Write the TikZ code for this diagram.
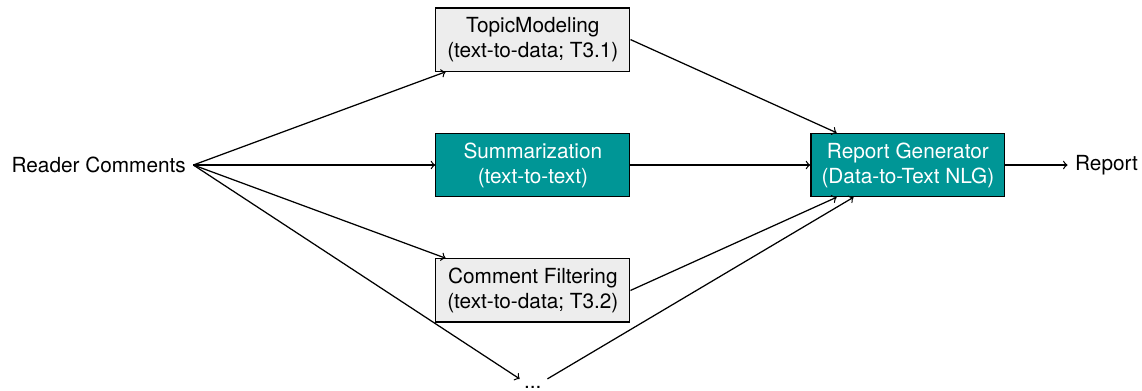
\documentclass[tikz,border=0pt]{standalone}
\usepackage{fontspec}
\setmainfont{TeX Gyre Heros}
\usepackage{tikz}
\usetikzlibrary{arrows,positioning}

\definecolor{boxteal}{RGB}{0,150,150}
\tikzset{
  graybox/.style={draw, fill=black!7, align=center, minimum width=3.28cm, minimum height=1.07cm},
  tealbox/.style={draw, fill=boxteal, text=white, align=center, minimum width=3.28cm, minimum height=1.07cm}
}

\begin{document}
\begin{tikzpicture}[->, semithick]
                \useasboundingbox (0,0) rectangle (19.31,-6.6);
                \node[tealbox]  (summ)   at (9.01,-2.79)          {Summarization\\(text-to-text)};
                \node[graybox]  (topic)  [above = 1.03cm of summ]  {TopicModeling\\(text-to-data; T3.1)};
                \node[graybox]  (filter) [below = 1.03cm of summ]  {Comment Filtering\\(text-to-data; T3.2)};
                \node           (dots)   [below = 0.95cm of filter] {...};
                \node[tealbox]  (gen)    [right = 3.04cm of summ]  {Report Generator\\(Data-to-Text NLG)};
                \node           (report) [right = 1.05cm of gen]   {Report};
                \node           (rc)     [left = 4.09cm of summ]   {Reader Comments};

                \path
                (rc.east) edge (topic)
                edge (summ)
                edge (filter)
                edge (dots)
                (topic.east) edge (gen)
                (summ) edge (gen)
                (filter.east) edge (gen)
                (dots) edge (gen)
                (gen) edge (report);
            \end{tikzpicture}
\end{document}
